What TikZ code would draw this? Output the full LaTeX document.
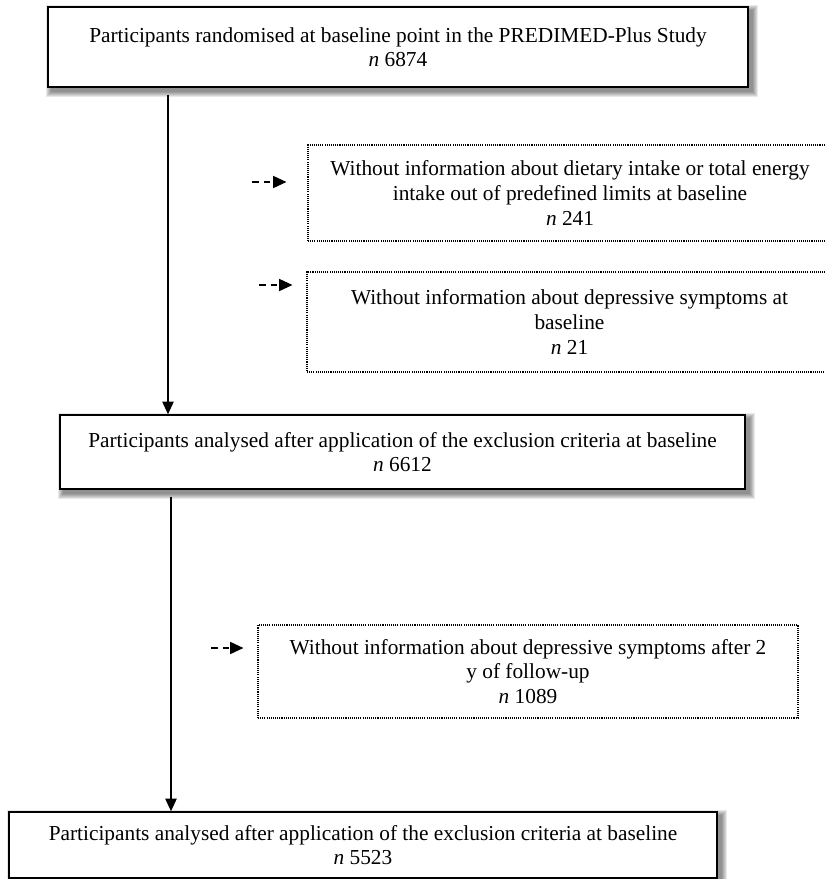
\documentclass[tikz,border=0pt]{standalone}
\usepackage{fontspec}
\setmainfont{Liberation Serif}
\usetikzlibrary{arrows.meta,calc,backgrounds}
\begin{document}
\begin{tikzpicture}[x=0.75pt,y=-0.75pt,
  font=\fontsize{16}{18.4}\selectfont,
  solidbox/.style={draw=black,line width=1.1pt,fill=white,align=center,inner sep=0pt},
  dotbox/.style={draw=black,line width=0.8pt,dash pattern=on 0.8pt off 0.8pt,align=center,inner sep=0pt},
  mainarrow/.style={line width=1.1pt,-{Triangle[length=9.5pt,width=8.5pt]}},
  sidearrow/.style={line width=1.2pt,dash pattern=on 5pt off 3.5pt,-{Triangle[length=10pt,width=9pt]}}]
\useasboundingbox (0,0) rectangle (825,879);

\node[solidbox,minimum width=525pt,minimum height=60pt] (top) at (398,47)
  {Participants randomised at baseline point in the PREDIMED-Plus Study\\\textit{n} 6874};
\node[solidbox,minimum width=513.75pt,minimum height=55.5pt] (mid) at (402.5,452)
  {Participants analysed after application of the exclusion criteria at baseline\\\textit{n} 6612};
\node[solidbox,minimum width=531pt,minimum height=49.5pt] (bot) at (363,845)
  {Participants analysed after application of the exclusion criteria at baseline\\\textit{n} 5523};

\node[dotbox,minimum width=393pt,minimum height=72pt] (d1) at (570,193)
  {Without information about dietary intake or total energy\\intake out of predefined limits at baseline\\\textit{n} 241};
\node[dotbox,minimum width=393.75pt,minimum height=75pt] (d2) at (569.5,322)
  {Without information about depressive symptoms at\\baseline\\\textit{n} 21};
\node[dotbox,minimum width=405pt,minimum height=69.75pt] (d3) at (528,671.5)
  {Without information about depressive symptoms after 2\\y of follow-up\\\textit{n} 1089};

\begin{pgfonlayer}{background}
\foreach \n in {top,mid,bot}{
  \foreach \r in {0,1,...,5}{
    \fill[black,opacity=0.09] ($(\n.north west)+(4-\r,4-\r)$) rectangle ($(\n.south east)+(4+\r,4+\r)$);
  }
}
\end{pgfonlayer}

\coordinate (c1) at (168,0);
\coordinate (c2) at (171,0);
\draw[mainarrow] ($(top.south -| c1)+(0,7)$) -- (mid.north -| c1);
\draw[mainarrow] ($(mid.south -| c2)+(0,7)$) -- (bot.north -| c2);

\draw[sidearrow] ($(d1.west)+(-55,-11)$) -- ($(d1.west)+(-21,-11)$);
\draw[sidearrow] ($(d2.west)+(-47,-37)$) -- ($(d2.west)+(-14,-37)$);
\draw[sidearrow] ($(d3.west)+(-46,-23.5)$) -- ($(d3.west)+(-14,-23.5)$);
\end{tikzpicture}
\end{document}
